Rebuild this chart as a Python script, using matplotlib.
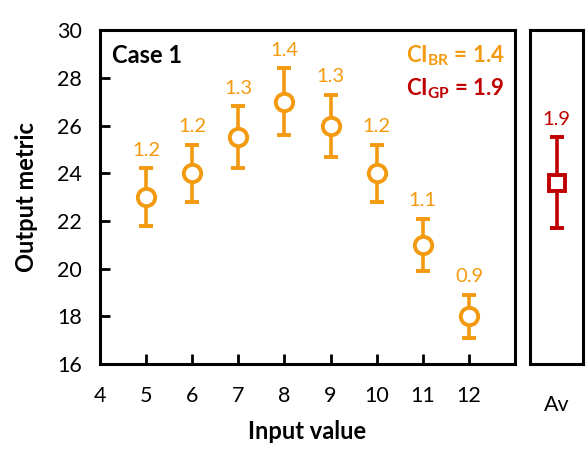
import matplotlib.pyplot as plt

plt.rcParams['font.family'] = ['Lato', 'DejaVu Sans']
plt.rcParams['mathtext.fontset'] = 'custom'
plt.rcParams['mathtext.rm'] = 'Lato'
plt.rcParams['mathtext.bf'] = 'Lato:bold'

# data
x_vals = [5, 6, 7, 8, 9, 10, 11, 12]
y_vals = [23.0, 24.0, 25.5, 27.0, 26.0, 24.0, 21.0, 18.0]
ci_vals = [1.2, 1.2, 1.3, 1.4, 1.3, 1.2, 1.1, 0.9]
av_value = 23.6
av_ci = 1.9
ci_br = 1.4
ci_gp = 1.9

orange = '#F39A10'
red = '#C00000'

fig = plt.figure(figsize=(5.88, 4.5), dpi=100)
ax = fig.add_axes([0.170, 0.191, 0.706, 0.742])
ax2 = fig.add_axes([0.902, 0.191, 0.089, 0.742])

ax.errorbar(x_vals, y_vals, yerr=ci_vals, fmt='o', color=orange, mfc='white',
            mec=orange, ms=12.5, mew=2.8, elinewidth=2.6, capsize=5, capthick=2.6)
for x, y, c in zip(x_vals, y_vals, ci_vals):
    ax.text(x, y + c + 0.4, f'{c:.1f}', color=orange, ha='center', va='bottom', fontsize=14.5)

ax.set_xlim(4, 13)
ax.set_ylim(16, 30)
ax.set_xticks(range(4, 13))
ax.set_yticks(range(16, 31, 2))
ax.tick_params(direction='in', length=7, width=2, labelsize=15.5)
ax.tick_params(axis='x', pad=16)
ax.tick_params(axis='y', pad=13)
ax.set_xlabel('Input value', fontsize=17, fontweight='bold', labelpad=10)
ax.set_ylabel('Output metric', fontsize=17, fontweight='bold', labelpad=14)
for s in ax.spines.values():
    s.set_linewidth(2.2)

ax.text(0.03, 0.96, 'Case 1', transform=ax.transAxes, fontsize=17,
        fontweight='bold', ha='left', va='top')
ax.text(0.975, 0.96, r'CI$_{\mathbf{BR}}$ = ' + f'{ci_br}', transform=ax.transAxes,
        fontsize=16, fontweight='bold', color=orange, ha='right', va='top')
ax.text(0.975, 0.86, r'CI$_{\mathbf{GP}}$ = ' + f'{ci_gp}', transform=ax.transAxes,
        fontsize=16, fontweight='bold', color=red, ha='right', va='top')

ax2.errorbar([1], [av_value], yerr=[av_ci], fmt='s', color=red, mfc='white',
             mec=red, ms=11, mew=2.8, elinewidth=2.6, capsize=5, capthick=2.6)
ax2.text(1, av_value + av_ci + 0.4, f'{av_ci:.1f}', color=red, ha='center',
         va='bottom', fontsize=14.5)
ax2.set_xlim(0, 2)
ax2.set_ylim(16, 30)
ax2.set_yticks([])
ax2.set_xticks([1])
ax2.set_xticklabels(['Av'])
ax2.tick_params(length=0, labelsize=15.5, pad=22)
for s in ax2.spines.values():
    s.set_linewidth(2.2)

fig.savefig('out.png', dpi=100)
